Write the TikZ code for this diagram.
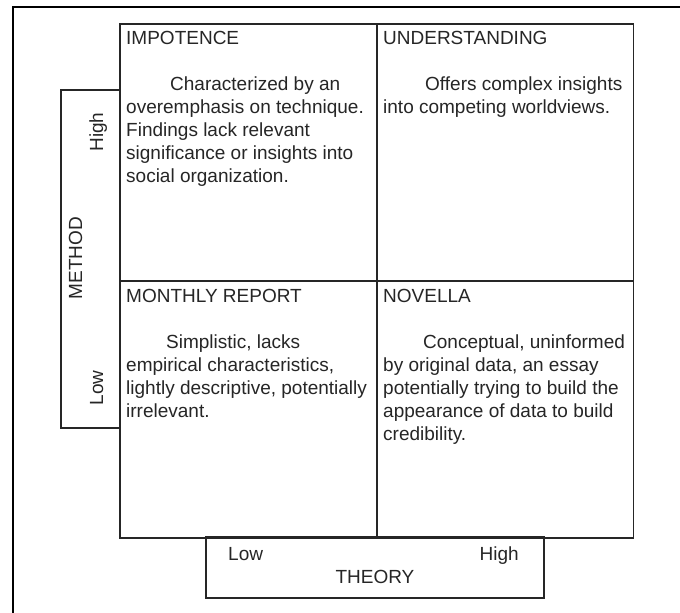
\documentclass[tikz,border=0pt]{standalone}
\usepackage{fontspec}
\setmainfont{Liberation Sans}
\begin{document}
\begin{tikzpicture}[x=1pt,y=-1pt,
  grid/.style={draw=black!85,line width=1.4pt},
  cell/.style={grid,minimum width=257pt,minimum height=257pt,inner sep=0pt},
  axisbox/.style={grid,inner sep=0pt},
  label/.style={inner sep=0pt,text=black!85,font=\fontsize{19}{23}\selectfont},
  body/.style={label,align=left,anchor=north west},
  axislabel/.style={label,rotate=90,anchor=base}]
\useasboundingbox (0,0) rectangle (680,613);
\fill[white] (0,0) rectangle (680,613);
\draw[line width=2pt] (13,620) -- (13,7) -- (690,7);

% side boxes
\node[axisbox,minimum width=59pt,minimum height=338pt] (methodbox) at (90.5,259) {};
\node[axisbox,minimum width=338pt,minimum height=61pt] (theorybox) at (375,567.5) {};

% the four cells
\node[cell] (impotence) at (248.5,152.5) {};
\node[cell] (understanding) at (505,152.5) {};
\node[cell] (monthly) at (248.5,409.5) {};
\node[cell] (novella) at (505,409.5) {};

\node[label,anchor=base west] (impotencetitle) at (126,44) {IMPOTENCE};
\node[label,anchor=base west] (understandingtitle) at (383,44) {UNDERSTANDING};
\node[label,anchor=base west] (monthlytitle) at (126,302) {MONTHLY REPORT};
\node[label,anchor=base west] (novellatitle) at (383,302) {NOVELLA};

% body texts, first baseline 16.1 below the top (strut)
\node[body] (impotencetext) at (126,73.9) {\strut\hspace*{44pt}Characterized by an\\overemphasis on technique.\\Findings lack relevant\\significance or insights into\\social organization.};
\node[body] (understandingtext) at (383,73.9) {\strut\hspace*{42pt}Offers complex insights\\into competing worldviews.};
\node[body] (monthlytext) at (126,331.9) {\strut\hspace*{40pt}Simplistic, lacks\\empirical characteristics,\\lightly descriptive, potentially\\irrelevant.};
\node[body] (novellatext) at (383,331.9) {\strut\hspace*{40pt}Conceptual, uninformed\\by original data, an essay\\potentially trying to build the\\appearance of data to build\\credibility.};

% axis labels
\node[axislabel] (methodlabel) at (82,258) {METHOD};
\node[axislabel] (methodhigh) at (103,132) {High};
\node[axislabel] (methodlow) at (103,388) {Low};
\node[label,anchor=base west] (theorylow) at (228,560) {Low};
\node[label,anchor=base east] (theoryhigh) at (519,560) {High};
\node[label,anchor=base] (theorylabel) at (375,583) {THEORY};
\end{tikzpicture}
\end{document}
